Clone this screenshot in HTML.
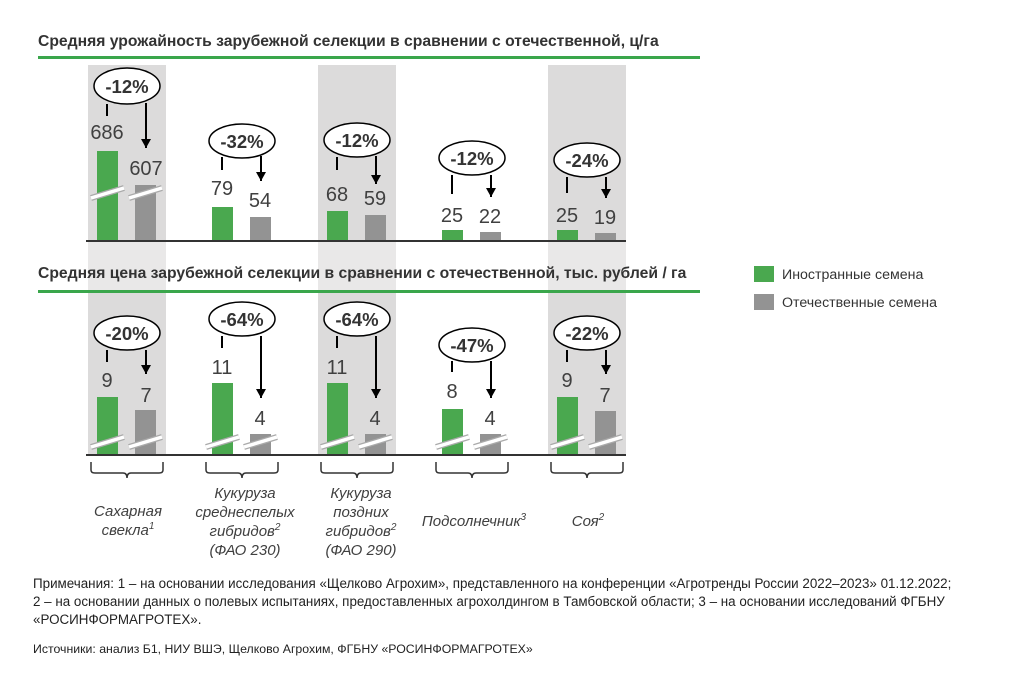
<!DOCTYPE html>
<html><head><meta charset="utf-8"><style>
body{margin:0;background:#fff;}
svg{display:block;font-family:"Liberation Sans",Arial,sans-serif;}
.v{font-size:20px;fill:#404040;text-anchor:middle}
.p{font-size:18.5px;font-weight:bold;fill:#333;text-anchor:middle}
.c{font-size:15px;font-style:italic;fill:#404040;text-anchor:middle}
</style></head><body>
<svg width="1024" height="676" viewBox="0 0 1024 676">
<defs><marker id="a" markerWidth="10" markerHeight="10" refX="9" refY="5" orient="auto" markerUnits="userSpaceOnUse"><path d="M0,0 L9,5 L0,10 z" fill="#000"/></marker></defs>
<g fill="#dcdbdb">
<rect x="88" y="65" width="78" height="176"/><rect x="318" y="65" width="78" height="176"/><rect x="548" y="65" width="78" height="176"/>
<rect x="88" y="293" width="78" height="162"/><rect x="318" y="293" width="78" height="162"/><rect x="548" y="293" width="78" height="162"/>
</g>
<g fill="#e9e8e8">
<rect x="88" y="241" width="78" height="50"/><rect x="318" y="241" width="78" height="50"/><rect x="548" y="241" width="78" height="50"/>
</g>
<text x="38" y="46" font-size="15.7" font-weight="bold" fill="#333">Средняя урожайность зарубежной селекции в сравнении с отечественной, ц/га</text>
<rect x="38" y="56" width="662" height="3" fill="#3aa64b"/>
<text x="38" y="278" font-size="15.7" font-weight="bold" fill="#333">Средняя цена зарубежной селекции в сравнении с отечественной, тыс. рублей / га</text>
<rect x="38" y="290" width="662" height="3" fill="#3aa64b"/>
<g fill="#4aa84f">
<rect x="97" y="151" width="21" height="90"/><rect x="212" y="207" width="21" height="34"/><rect x="327" y="211" width="21" height="30"/><rect x="442" y="230" width="21" height="11"/><rect x="557" y="230" width="21" height="11"/>
<rect x="97" y="397" width="21" height="58"/><rect x="212" y="383" width="21" height="72"/><rect x="327" y="383" width="21" height="72"/><rect x="442" y="409" width="21" height="46"/><rect x="557" y="397" width="21" height="58"/>
</g>
<g fill="#939393">
<rect x="135" y="185" width="21" height="56"/><rect x="250" y="217" width="21" height="24"/><rect x="365" y="215" width="21" height="26"/><rect x="480" y="232" width="21" height="9"/><rect x="595" y="233" width="21" height="8"/>
<rect x="135" y="410" width="21" height="45"/><rect x="250" y="434" width="21" height="21"/><rect x="365" y="434" width="21" height="21"/><rect x="480" y="434" width="21" height="21"/><rect x="595" y="411" width="21" height="44"/>
</g>
<g stroke="#aaa" stroke-width="6"><path d="M91,198 L124,188 M129,198 L162,188"/>
<path d="M91,447 L124,437 M129,447 L162,437 M206,447 L239,437 M244,447 L277,437 M321,447 L354,437 M359,447 L392,437 M436,447 L469,437 M474,447 L507,437 M551,447 L584,437 M589,447 L622,437"/></g>
<g stroke="#fff" stroke-width="3.5"><path d="M91,198 L124,188 M129,198 L162,188"/>
<path d="M91,447 L124,437 M129,447 L162,437 M206,447 L239,437 M244,447 L277,437 M321,447 L354,437 M359,447 L392,437 M436,447 L469,437 M474,447 L507,437 M551,447 L584,437 M589,447 L622,437"/></g>
<rect x="86" y="240" width="540" height="2" fill="#333"/>
<rect x="86" y="454" width="540" height="2" fill="#333"/>
<g class="v">
<text x="107" y="139">686</text><text x="146" y="175">607</text>
<text x="222" y="195">79</text><text x="260" y="207">54</text>
<text x="337" y="201">68</text><text x="375" y="205">59</text>
<text x="452" y="222">25</text><text x="490" y="223">22</text>
<text x="567" y="222">25</text><text x="605" y="224">19</text>
<text x="107" y="387">9</text><text x="146" y="402">7</text>
<text x="222" y="374">11</text><text x="260" y="425">4</text>
<text x="337" y="374">11</text><text x="375" y="425">4</text>
<text x="452" y="398">8</text><text x="490" y="425">4</text>
<text x="567" y="387">9</text><text x="605" y="402">7</text>
</g>
<g stroke="#000" stroke-width="2" fill="none">
<path d="M107,104V116"/><path d="M146,103V148" marker-end="url(#a)"/>
<path d="M222,157V170"/><path d="M261,156V181" marker-end="url(#a)"/>
<path d="M337,157V170"/><path d="M376,156V184" marker-end="url(#a)"/>
<path d="M452,175V194"/><path d="M491,175V197" marker-end="url(#a)"/>
<path d="M567,177V193"/><path d="M606,177V198" marker-end="url(#a)"/>
<path d="M107,350V362"/><path d="M146,350V374" marker-end="url(#a)"/>
<path d="M222,336V348"/><path d="M261,336V398" marker-end="url(#a)"/>
<path d="M337,336V348"/><path d="M376,336V398" marker-end="url(#a)"/>
<path d="M452,361V372"/><path d="M491,361V398" marker-end="url(#a)"/>
<path d="M567,350V362"/><path d="M606,350V374" marker-end="url(#a)"/>
</g>
<g fill="#fff" stroke="#000" stroke-width="1.5">
<ellipse cx="127" cy="86" rx="33" ry="18"/><ellipse cx="242" cy="141" rx="33" ry="17"/><ellipse cx="357" cy="140" rx="33" ry="17"/><ellipse cx="472" cy="158" rx="33" ry="17"/><ellipse cx="587" cy="160" rx="33" ry="17"/>
<ellipse cx="127" cy="333" rx="33" ry="17"/><ellipse cx="242" cy="319" rx="33" ry="17"/><ellipse cx="357" cy="319" rx="33" ry="17"/><ellipse cx="472" cy="345" rx="33" ry="17"/><ellipse cx="587" cy="333" rx="33" ry="17"/>
</g>
<g class="p">
<text x="127" y="93">-12%</text><text x="242" y="148">-32%</text><text x="357" y="147">-12%</text><text x="472" y="165">-12%</text><text x="587" y="167">-24%</text>
<text x="127" y="340">-20%</text><text x="242" y="326">-64%</text><text x="357" y="326">-64%</text><text x="472" y="352">-47%</text><text x="587" y="340">-22%</text>
</g>
<g stroke="#333" stroke-width="1.5" fill="none">
<path d="M91,462V470Q91,473 95,473H123Q127,473 127,478Q127,473 131,473H159Q163,473 163,470V462"/>
<path d="M206,462V470Q206,473 210,473H238Q242,473 242,478Q242,473 246,473H274Q278,473 278,470V462"/>
<path d="M321,462V470Q321,473 325,473H353Q357,473 357,478Q357,473 361,473H389Q393,473 393,470V462"/>
<path d="M436,462V470Q436,473 440,473H468Q472,473 472,478Q472,473 476,473H504Q508,473 508,470V462"/>
<path d="M551,462V470Q551,473 555,473H583Q587,473 587,478Q587,473 591,473H619Q623,473 623,470V462"/>
</g>
<g class="c">
<text x="128" y="516">Сахарная</text><text x="128" y="535">свекла<tspan font-size="10" dy="-6">1</tspan></text>
<text x="245" y="498">Кукуруза</text><text x="245" y="517">среднеспелых</text><text x="245" y="536">гибридов<tspan font-size="10" dy="-6">2</tspan></text><text x="245" y="555">(ФАО 230)</text>
<text x="361" y="498">Кукуруза</text><text x="361" y="517">поздних</text><text x="361" y="536">гибридов<tspan font-size="10" dy="-6">2</tspan></text><text x="361" y="555">(ФАО 290)</text>
<text x="474" y="526">Подсолнечник<tspan font-size="10" dy="-6">3</tspan></text>
<text x="588" y="526">Соя<tspan font-size="10" dy="-6">2</tspan></text>
</g>
<rect x="754" y="266" width="20" height="16" fill="#4aa84f"/>
<text x="782" y="279" font-size="14.2" fill="#333">Иностранные семена</text>
<rect x="754" y="294" width="20" height="16" fill="#939393"/>
<text x="782" y="307" font-size="14.2" fill="#333">Отечественные семена</text>
<g font-size="13.4" fill="#222">
<text x="33" y="588">Примечания: 1 – на основании исследования «Щелково Агрохим», представленного на конференции «Агротренды России 2022–2023» 01.12.2022;</text>
<text x="33" y="606">2 – на основании данных о полевых испытаниях, предоставленных агрохолдингом в Тамбовской области; 3 – на основании исследований ФГБНУ</text>
<text x="33" y="624">«РОСИНФОРМАГРОТЕХ».</text>
<text x="33" y="653" font-size="12.3">Источники: анализ Б1, НИУ ВШЭ, Щелково Агрохим, ФГБНУ «РОСИНФОРМАГРОТЕХ»</text>
</g>
</svg>
</body></html>
